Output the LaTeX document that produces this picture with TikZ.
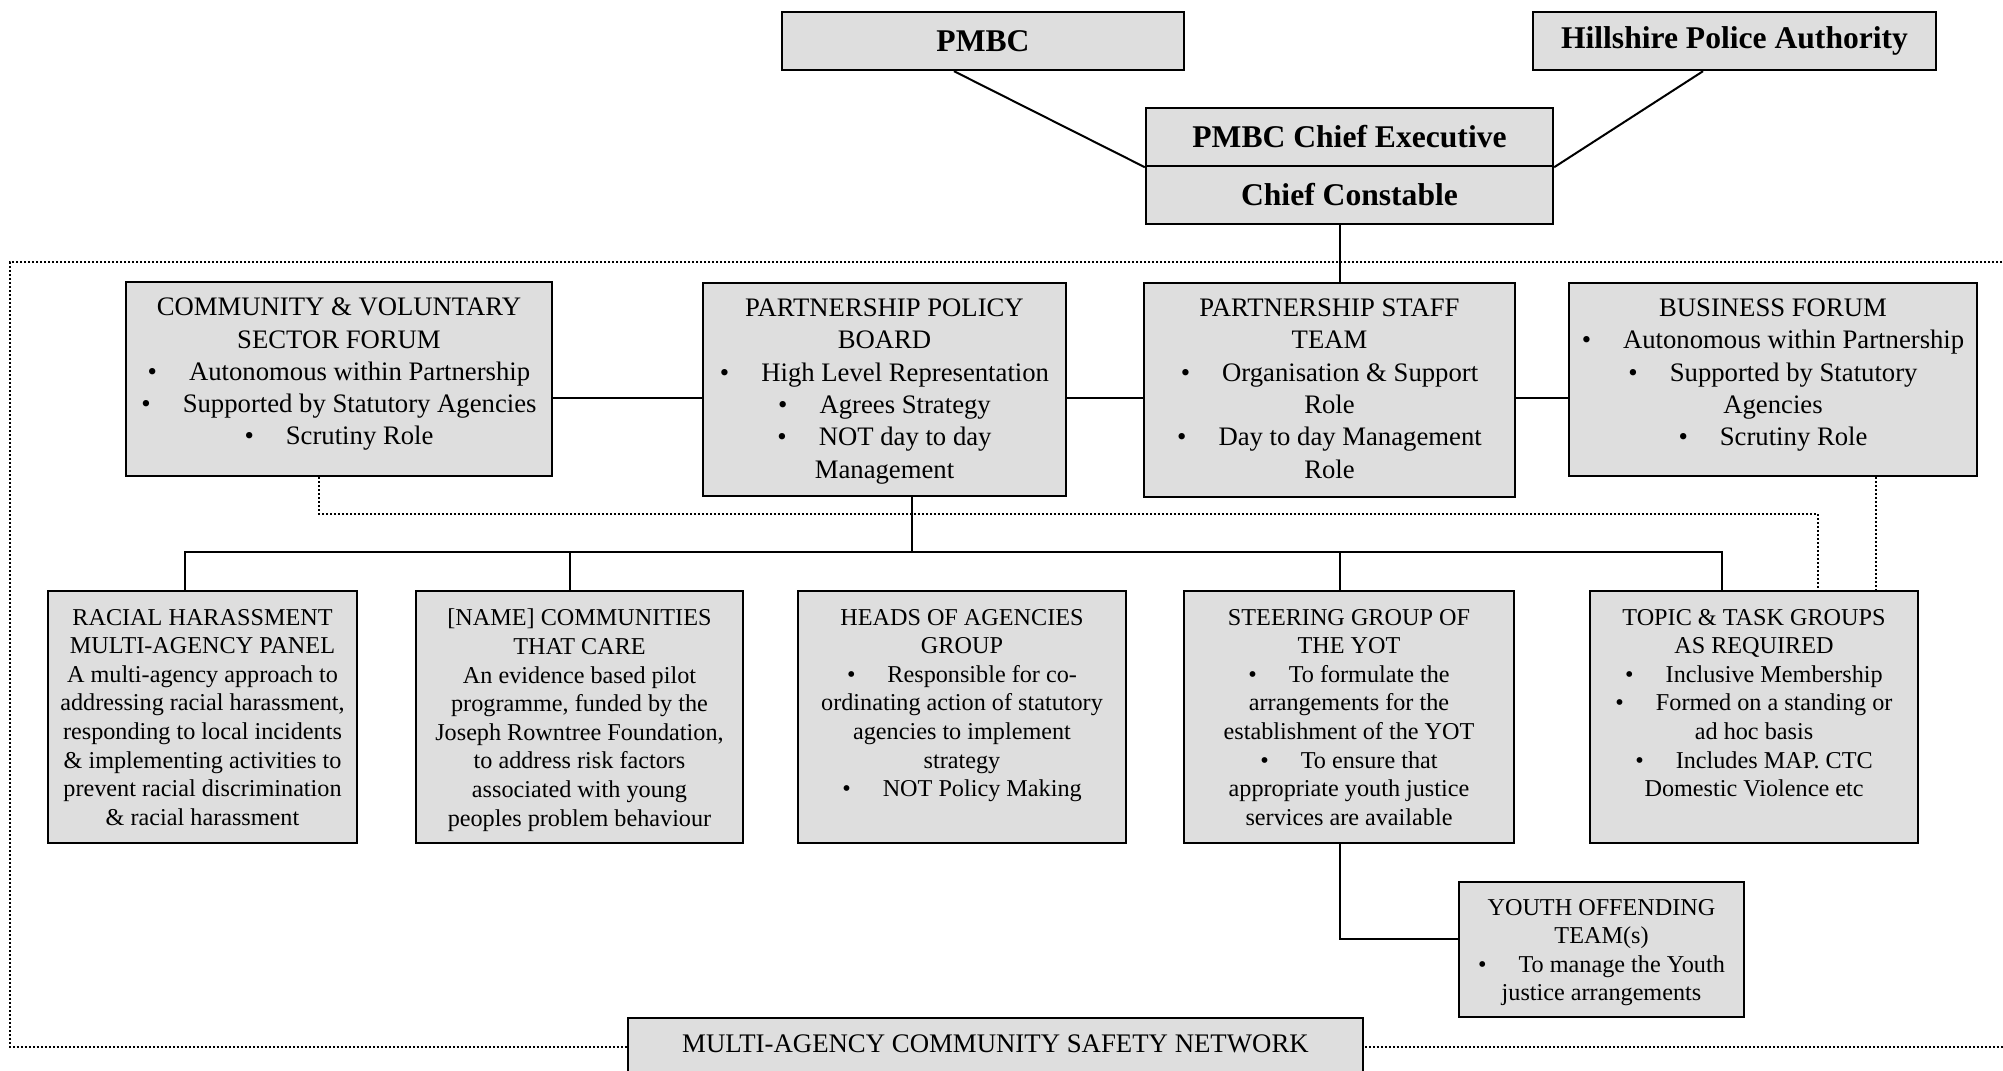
\documentclass[tikz,border=0pt]{standalone}
\usepackage{fontspec}
\setmainfont{Liberation Serif}
\usepackage{tikz}
\usetikzlibrary{positioning}
\definecolor{boxgrey}{RGB}{222,222,222}
\newcommand{\bul}{\textbullet\hspace{16pt}}
\newcommand{\boxbody}[3]{\parbox[c][#2][t]{#1}{\centering #3}}

\begin{document}
\begin{tikzpicture}[x=0.5pt, y=-0.5pt,
    topbox/.style={draw, fill=boxgrey, line width=1.2pt, minimum height=29pt, font=\fontsize{15.8pt}{18pt}\selectfont\bfseries},
    forumbox/.style={draw, fill=boxgrey, line width=1.2pt, inner xsep=2pt, inner ysep=8pt, font=\fontsize{13.35pt}{16.15pt}\selectfont},
    groupbox/.style={draw, fill=boxgrey, line width=1.2pt, inner xsep=2pt, inner ysep=9pt, font=\fontsize{12.1pt}{14.3pt}\selectfont},
    link/.style={line width=1pt},
    dotline/.style={line width=0.9pt, dash pattern=on 0.9pt off 1.1pt}]
    \useasboundingbox (0,0) rectangle (2003,1071);
    \clip (0,0) rectangle (2003,1071);

    % partnership frame
    \draw[dotline] (2050,262) -- (10,262) -- (10,1047) -- (2050,1047);

    \node[topbox, minimum width=201pt] (pmbc) at (983,41) {PMBC};
    \node[topbox, minimum width=201.5pt] (hpa) at (1734.5,41) {Hillshire Police Authority};
    \node[topbox, minimum width=203.5pt] (exec) at (1349.5,137) {PMBC Chief Executive};
    \node[topbox, minimum width=203.5pt, below=-1.2pt of exec] (const) {Chief Constable};

    \node[forumbox] (cvsf) at (339,379) {\boxbody{209pt}{81pt}{COMMUNITY \& VOLUNTARY\\SECTOR FORUM\\\bul Autonomous within Partnership\\\bul Supported by Statutory Agencies\\\bul Scrutiny Role}};
    \node[forumbox] (ppb) at (884.5,389.5) {\boxbody{177.5pt}{90.5pt}{PARTNERSHIP POLICY\\BOARD\\\bul High Level Representation\\\bul Agrees Strategy\\\bul NOT day to day\\Management}};
    \node[forumbox] (pst) at (1329.5,390) {\boxbody{181.5pt}{91pt}{PARTNERSHIP STAFF\\TEAM\\\bul Organisation \& Support\\Role\\\bul Day to day Management\\Role}};
    \node[forumbox] (bf) at (1773,379.5) {\boxbody{200pt}{80.5pt}{BUSINESS FORUM\\\bul Autonomous within Partnership\\\bul Supported by Statutory\\Agencies\\\bul Scrutiny Role}};

    \node[groupbox] (rh) at (202.5,717) {\boxbody{150.5pt}{108pt}{RACIAL HARASSMENT\\MULTI-AGENCY PANEL\\A multi-agency approach to\\addressing racial harassment,\\responding to local incidents\\\& implementing activities to\\prevent racial discrimination\\\& racial harassment}};
    \node[groupbox] (ctc) at (579.5,717) {\boxbody{159.5pt}{108pt}{[NAME] COMMUNITIES\\THAT CARE\\An evidence based pilot\\programme, funded by the\\Joseph Rowntree Foundation,\\to address risk factors\\associated with young\\peoples problem behaviour}};
    \node[groupbox] (hoa) at (962,717) {\boxbody{160pt}{108pt}{HEADS OF AGENCIES\\GROUP\\\bul Responsible for co-\\ordinating action of statutory\\agencies to implement\\strategy\\\bul NOT Policy Making}};
    \node[groupbox] (sg) at (1349,717) {\boxbody{161pt}{108pt}{STEERING GROUP OF\\THE YOT\\\bul To formulate the\\arrangements for the\\establishment of the YOT\\\bul To ensure that\\appropriate youth justice\\services are available}};
    \node[groupbox] (ttg) at (1754,717) {\boxbody{160pt}{108pt}{TOPIC \& TASK GROUPS\\AS REQUIRED\\\bul Inclusive Membership\\\bul Formed on a standing or\\ad hoc basis\\\bul Includes MAP. CTC\\Domestic Violence etc}};

    \node[groupbox, inner ysep=8.5pt] (yot) at (1601.5,949.5) {\boxbody{138.5pt}{50.5pt}{YOUTH OFFENDING\\TEAM(s)\\\bul To manage the Youth\\justice arrangements}};
    \node[draw, fill=boxgrey, line width=1.2pt, anchor=north, minimum width=367.5pt, text height=9pt, text depth=40pt, inner ysep=8pt, font=\fontsize{13.4pt}{16pt}\selectfont] (macsn) at (995.5,1017) {MULTI-AGENCY COMMUNITY SAFETY NETWORK};

    \coordinate (spine) at (1340,0);
    \coordinate (midrow) at (0,398);
    \coordinate (bus) at (0,552);
    \coordinate (dotbus) at (0,514);

    \draw[link] ([xshift=-14.5pt]pmbc.south) -- (exec.south west);
    \draw[link] ([xshift=-15.75pt]hpa.south) -- (exec.south east);
    \draw[link] (const.south -| spine) -- (pst.north -| spine);
    \draw[link] (cvsf.east |- midrow) -- (ppb.west |- midrow);
    \draw[link] (ppb.east |- midrow) -- (pst.west |- midrow);
    \draw[link] (pst.east |- midrow) -- (bf.west |- midrow);

    \coordinate (ppbdrop) at ([xshift=13.75pt]ppb.south);
    \coordinate (rhdrop) at ([xshift=-8.75pt]rh.north);
    \coordinate (ctcdrop) at ([xshift=-4.75pt]ctc.north);
    \coordinate (ttgdrop) at ([xshift=-16pt]ttg.north);
    \draw[link] (ppbdrop) -- (ppbdrop |- bus);
    \draw[link] (rhdrop) -- (rhdrop |- bus) -- (ttgdrop |- bus) -- (ttgdrop);
    \draw[link] (ctcdrop) -- (ctcdrop |- bus);
    \draw[link] (sg.north -| spine) -- (spine |- bus);
    \draw[link] (sg.south -| spine) |- ([yshift=5.25pt]yot.west);

    % dotted links
    \coordinate (cvsfdot) at ([xshift=-10pt]cvsf.south);
    \coordinate (ttgdot) at ([xshift=32pt]ttg.north);
    \coordinate (bfdot) at ([xshift=51.5pt]bf.south);
    \draw[dotline] (cvsfdot) -- (cvsfdot |- dotbus) -- (ttgdot |- dotbus) -- (ttgdot);
    \draw[dotline] (bfdot) -- (bfdot |- ttg.north);
\end{tikzpicture}
\end{document}
